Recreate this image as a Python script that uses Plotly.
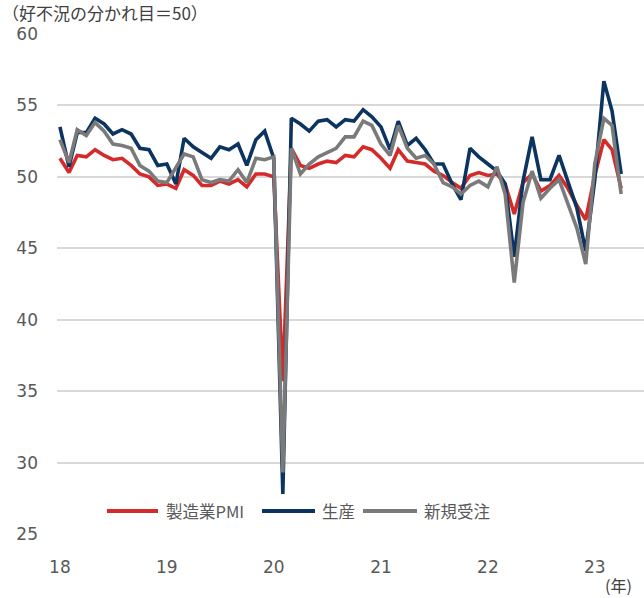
import plotly.graph_objects as go
import pandas as pd

# Monthly data, 2018-01 .. 2023-04
start_month = "2018-01-01"
pmi = [51.3, 50.3, 51.5, 51.4, 51.9, 51.5, 51.2, 51.3, 50.8, 50.2, 50.0, 49.4,
       49.5, 49.2, 50.5, 50.1, 49.4, 49.4, 49.7, 49.5, 49.8, 49.3, 50.2, 50.2,
       50.0, 35.7, 52.0, 50.8, 50.6, 50.9, 51.1, 51.0, 51.5, 51.4, 52.1, 51.9,
       51.3, 50.6, 51.9, 51.1, 51.0, 50.9, 50.4, 50.1, 49.6, 49.2, 50.1, 50.3,
       50.1, 50.2, 49.5, 47.4, 49.6, 50.2, 49.0, 49.4, 50.1, 49.2, 48.0, 47.0,
       50.1, 52.6, 51.9, 49.2]
production = [53.5, 50.7, 53.1, 53.1, 54.1, 53.7, 53.0, 53.3, 53.0, 52.0, 51.9, 50.8,
              50.9, 49.5, 52.7, 52.1, 51.7, 51.3, 52.1, 51.9, 52.3, 50.8, 52.6, 53.2,
              51.3, 27.8, 54.1, 53.7, 53.2, 53.9, 54.0, 53.5, 54.0, 53.9, 54.7, 54.2,
              53.5, 51.9, 53.9, 52.2, 52.7, 51.9, 50.9, 50.9, 49.5, 48.4, 52.0, 51.4,
              50.9, 50.4, 49.5, 44.4, 49.7, 52.8, 49.8, 49.8, 51.5, 49.6, 47.8, 44.8,
              49.8, 56.7, 54.6, 50.2]
new_orders = [52.6, 51.0, 53.3, 52.9, 53.8, 53.2, 52.3, 52.2, 52.0, 50.8, 50.4, 49.7,
              49.6, 50.6, 51.6, 51.4, 49.8, 49.6, 49.8, 49.7, 50.5, 49.6, 51.3, 51.2,
              51.4, 29.3, 52.0, 50.2, 50.9, 51.4, 51.7, 52.0, 52.8, 52.8, 53.9, 53.6,
              52.3, 51.5, 53.6, 52.0, 51.3, 51.5, 50.9, 49.6, 49.3, 48.8, 49.4, 49.7,
              49.3, 50.7, 48.8, 42.6, 48.2, 50.4, 48.5, 49.2, 49.8, 48.1, 46.4, 43.9,
              50.9, 54.1, 53.6, 48.8]
series_names = ["製造業PMI", "生産", "新規受注"]
series_colors = ["#D42A2A", "#0B3460", "#7A7A7A"]
year_ticks = ["2018-01-01", "2019-01-01", "2020-01-01", "2021-01-01", "2022-01-01", "2023-01-01"]
year_labels = ["18", "19", "20", "21", "22", "23"]
y_ticks = [25, 30, 35, 40, 45, 50, 55, 60]

months = pd.date_range(start_month, periods=len(pmi), freq="MS")

# plot-area geometry (pixels) used to place the hand-made legend & notes
W, H = 644, 598
ML, MR, MT, MB = 57, 0, 33, 63
PW, PH = W - ML - MR, H - MT - MB


def px(x):
    return (x - ML) / PW


def py(y):
    return (H - MB - y) / PH


fig = go.Figure()
for name, vals, col in zip(series_names, [pmi, production, new_orders], series_colors):
    fig.add_trace(go.Scatter(x=months, y=vals, name=name, mode="lines",
                             line=dict(color=col, width=3.6), showlegend=False))

# manual legend (longer line keys, as in the reference)
legend_y = 511
legend_items = [(107, 158, 164), (262, 315, 320), (363, 417, 422)]
shapes = []
annotations = []
jp_font = "Noto Sans CJK JP, sans-serif"
for (x0, x1, tx), name, col in zip(legend_items, series_names, series_colors):
    shapes.append(dict(type="line", xref="paper", yref="paper",
                       x0=px(x0), x1=px(x1), y0=py(legend_y), y1=py(legend_y),
                       line=dict(color=col, width=4)))
    annotations.append(dict(text=name, xref="paper", yref="paper",
                            x=px(tx), y=py(legend_y), xanchor="left", yanchor="middle",
                            showarrow=False,
                            font=dict(family=jp_font, size=16.5, color="#595959")))

annotations.append(dict(text="（好不況の分かれ目＝50）", xref="paper", yref="paper",
                        x=px(0), y=py(12), xanchor="left", yanchor="middle", showarrow=False,
                        font=dict(family=jp_font, size=17, color="#404040")))
annotations.append(dict(text="(年)", xref="paper", yref="paper",
                        x=px(634), y=py(585), xanchor="right", yanchor="middle", showarrow=False,
                        font=dict(family=jp_font, size=16, color="#404040")))

fig.update_layout(
    width=W, height=H,
    margin=dict(l=ML, r=MR, t=MT, b=MB, autoexpand=False),
    plot_bgcolor="white", paper_bgcolor="white",
    font=dict(family="DejaVu Sans, Noto Sans CJK JP, sans-serif", color="#595959", size=16),
    showlegend=False,
    xaxis=dict(range=["2017-12-22", "2023-06-18"], tickvals=year_ticks, ticktext=year_labels,
               showgrid=False, zeroline=False, showline=False, ticks="", automargin=False,
               tickfont=dict(size=17, color="#595959"), ticklabelstandoff=20),
    yaxis=dict(range=[24.93, 60.07], tickvals=y_ticks, showgrid=True, gridcolor="#D9D9D9",
               gridwidth=1.5, zeroline=False, showline=False, ticks="", automargin=False,
               tickfont=dict(size=17, color="#595959"), ticklabelstandoff=18),
    shapes=shapes,
    annotations=annotations,
)

fig.write_html("out.html", config={"displayModeBar": False},
               post_script="document.body.style.margin='0';document.body.style.overflow='hidden';")
